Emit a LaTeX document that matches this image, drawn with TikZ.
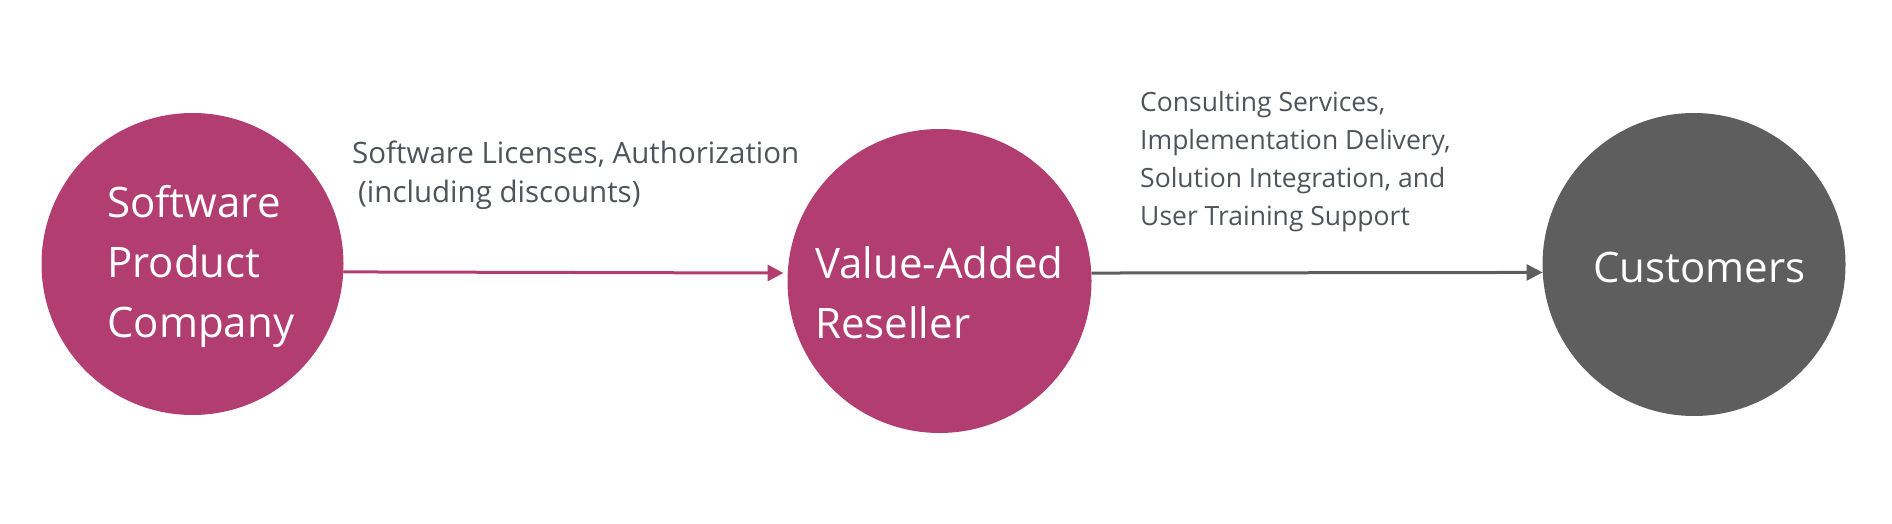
\documentclass[tikz,border=0pt]{standalone}
\usepackage{fontspec}
\setmainfont{Open Sans}
\usetikzlibrary{arrows.meta}
\definecolor{vmag}{HTML}{B23D71}
\definecolor{vgray}{HTML}{5E5E5E}
\definecolor{vtext}{HTML}{4F545B}
\tikzset{
  disc/.style={circle,inner sep=0pt,draw=none},
  intext/.style={anchor=base west,inner sep=0pt,align=left,text=white,
    font=\fontsize{42}{60}\selectfont},
  lbl/.style={anchor=base west,inner sep=0pt,align=left,text=vtext,
    font=\fontsize{26.5}{37.7}\selectfont},
  lblbig/.style={lbl,font=\fontsize{29.5}{39}\selectfont},
  flow/.style={line width=3pt,-{Triangle[length=16pt,width=16pt]}},
}
\begin{document}
\begin{tikzpicture}[x=1pt,y=-1pt]
\useasboundingbox (0,0) rectangle (1892,524);
\node[disc,fill=vmag,minimum size=302pt] (spc) at (192.5,264) {};
\node[disc,fill=vmag,minimum size=304pt] (var) at (939.5,281) {};
\node[disc,fill=vgray,minimum size=303pt] (cust) at (1694,264.5) {};
\node[intext] (spct) at (107,337) {Software\\Product\\Company};
\node[intext] (vart) at (815,338) {Value-Added\\Reseller};
\node[intext] (custt) at (1593,282) {Customers};
\draw[flow,draw=vmag,fill=vmag,shorten >=4pt] (spc.-3.4) -- (var.177);
\draw[flow,draw=vgray,fill=vgray] (var.3) -- (cust.183.2);
\node[lblbig] (l1) at (352,202) {Software Licenses, Authorization\\\hspace*{6pt}(including discounts)};
\node[lbl] (l2) at (1140,225) {Consulting Services,\\Implementation Delivery,\\Solution Integration, and\\User Training Support};
\end{tikzpicture}
\end{document}
